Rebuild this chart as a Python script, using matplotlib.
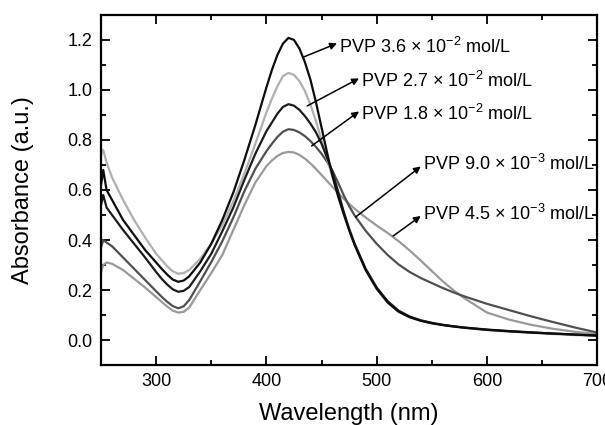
import matplotlib
matplotlib.use("Agg")
import matplotlib.pyplot as plt
from matplotlib.ticker import MultipleLocator, FormatStrFormatter

plt.rcParams['font.family'] = ['Liberation Sans', 'DejaVu Sans']
plt.rcParams['mathtext.fontset'] = 'custom'
plt.rcParams['mathtext.rm'] = 'Liberation Sans'
plt.rcParams['mathtext.it'] = 'Liberation Sans:italic'
plt.rcParams['mathtext.bf'] = 'Liberation Sans:bold'

wavelength = [250, 252, 255, 260, 270, 280, 290, 300, 305, 310, 315, 320, 325, 330,
              340, 350, 360, 370, 380, 390, 400, 405, 410, 415, 420, 425, 430, 435,
              440, 445, 450, 455, 460, 465, 470, 475, 480, 490, 500, 510, 520, 530,
              540, 550, 560, 570, 580, 600, 620, 640, 660, 680, 700]

pvp_36e2 = [0.62, 0.68, 0.60, 0.56, 0.48, 0.42, 0.36, 0.31, 0.285, 0.262, 0.242, 0.233, 0.238, 0.255,
            0.31, 0.385, 0.48, 0.59, 0.72, 0.86, 1.01, 1.08, 1.14, 1.185, 1.208, 1.20, 1.165, 1.11,
            1.04, 0.95, 0.85, 0.75, 0.655, 0.575, 0.505, 0.44, 0.38, 0.28, 0.205, 0.15, 0.113, 0.091,
            0.077, 0.067, 0.06, 0.054, 0.049, 0.041, 0.035, 0.03, 0.026, 0.022, 0.018]
pvp_27e2 = [0.74, 0.76, 0.71, 0.65, 0.56, 0.48, 0.41, 0.345, 0.32, 0.295, 0.275, 0.265, 0.268, 0.28,
            0.325, 0.385, 0.46, 0.555, 0.665, 0.785, 0.91, 0.965, 1.015, 1.055, 1.068, 1.06, 1.035, 0.995,
            0.94, 0.875, 0.80, 0.725, 0.65, 0.58, 0.51, 0.445, 0.385, 0.285, 0.21, 0.155, 0.117, 0.093,
            0.078, 0.068, 0.06, 0.054, 0.049, 0.04, 0.034, 0.029, 0.024, 0.02, 0.016]
pvp_18e2 = [0.54, 0.58, 0.53, 0.50, 0.44, 0.385, 0.33, 0.272, 0.245, 0.222, 0.203, 0.193, 0.197, 0.212,
            0.275, 0.345, 0.435, 0.53, 0.64, 0.745, 0.835, 0.87, 0.905, 0.932, 0.943, 0.937, 0.92, 0.895,
            0.865, 0.83, 0.785, 0.73, 0.67, 0.595, 0.515, 0.445, 0.385, 0.285, 0.21, 0.155, 0.117, 0.094,
            0.079, 0.069, 0.061, 0.055, 0.05, 0.042, 0.036, 0.031, 0.026, 0.022, 0.018]
pvp_90e3 = [0.37, 0.40, 0.39, 0.375, 0.33, 0.285, 0.24, 0.195, 0.173, 0.153, 0.136, 0.127, 0.135, 0.16,
            0.235, 0.312, 0.395, 0.49, 0.595, 0.685, 0.755, 0.785, 0.812, 0.833, 0.843, 0.84, 0.83, 0.815,
            0.795, 0.772, 0.745, 0.713, 0.676, 0.63, 0.58, 0.536, 0.498, 0.437, 0.385, 0.34, 0.302, 0.272,
            0.248, 0.228, 0.208, 0.19, 0.174, 0.145, 0.12, 0.095, 0.072, 0.05, 0.03]
pvp_45e3 = [0.27, 0.30, 0.31, 0.305, 0.28, 0.245, 0.21, 0.172, 0.153, 0.134, 0.118, 0.11, 0.113, 0.13,
            0.2, 0.268, 0.34, 0.44, 0.54, 0.63, 0.695, 0.718, 0.736, 0.748, 0.752, 0.75, 0.74, 0.725,
            0.706, 0.684, 0.66, 0.636, 0.612, 0.588, 0.565, 0.545, 0.525, 0.49, 0.458, 0.428, 0.395, 0.358,
            0.318, 0.276, 0.235, 0.198, 0.166, 0.11, 0.082, 0.061, 0.045, 0.033, 0.024]

labels = [r"PVP 3.6 $\times$ 10$^{-2}$ mol/L",
          r"PVP 2.7 $\times$ 10$^{-2}$ mol/L",
          r"PVP 1.8 $\times$ 10$^{-2}$ mol/L",
          r"PVP 9.0 $\times$ 10$^{-3}$ mol/L",
          r"PVP 4.5 $\times$ 10$^{-3}$ mol/L"]
series = [pvp_36e2, pvp_27e2, pvp_18e2, pvp_90e3, pvp_45e3]
colors = ['#0d0d0d', '#b0b0b0', '#1c1c1c', '#505050', '#9a9a9a']

fig = plt.figure(figsize=(6.05, 4.25), dpi=100)
ax = fig.add_axes([0.167, 0.141, 0.820, 0.824])

for idx in [4, 3, 1, 2, 0]:
    ax.plot(wavelength, series[idx], color=colors[idx], lw=1.6, solid_joinstyle='round')

ax.set_xlim(250, 700)
ax.set_ylim(-0.1, 1.3)
ax.xaxis.set_major_locator(MultipleLocator(100))
ax.xaxis.set_minor_locator(MultipleLocator(50))
ax.yaxis.set_major_locator(MultipleLocator(0.2))
ax.yaxis.set_minor_locator(MultipleLocator(0.1))
ax.yaxis.set_major_formatter(FormatStrFormatter('%.1f'))
ax.tick_params(which='both', direction='in', top=True, right=True, labelsize=13, width=1.3)
ax.tick_params(which='major', length=6.5, pad=6)
ax.tick_params(which='minor', length=3.6)
for s in ax.spines.values():
    s.set_linewidth(1.6)

ax.set_xlabel("Wavelength (nm)", fontsize=17, labelpad=9)
ax.set_ylabel("Absorbance (a.u.)", fontsize=17, labelpad=24)

# annotations: (text x, text y, arrow tail x, y, arrow head x, y)
ann = [(466, 1.172, 434, 1.132, 464, 1.186),
       (486, 1.036, 437, 0.936, 484, 1.046),
       (486, 0.904, 441, 0.776, 484, 0.914),
       (542, 0.704, 481, 0.492, 540, 0.694),
       (542, 0.504, 515, 0.416, 540, 0.496)]
for lab, (tx, ty, ax0, ay0, hx, hy) in zip(labels, ann):
    ax.annotate('', xy=(hx, hy), xytext=(ax0, ay0),
                arrowprops=dict(arrowstyle='-|>', color='black', lw=1.1, mutation_scale=10,
                                shrinkA=0, shrinkB=0))
    ax.text(tx, ty, lab, fontsize=13, va='center', ha='left')

fig.savefig("out.png", dpi=100)
